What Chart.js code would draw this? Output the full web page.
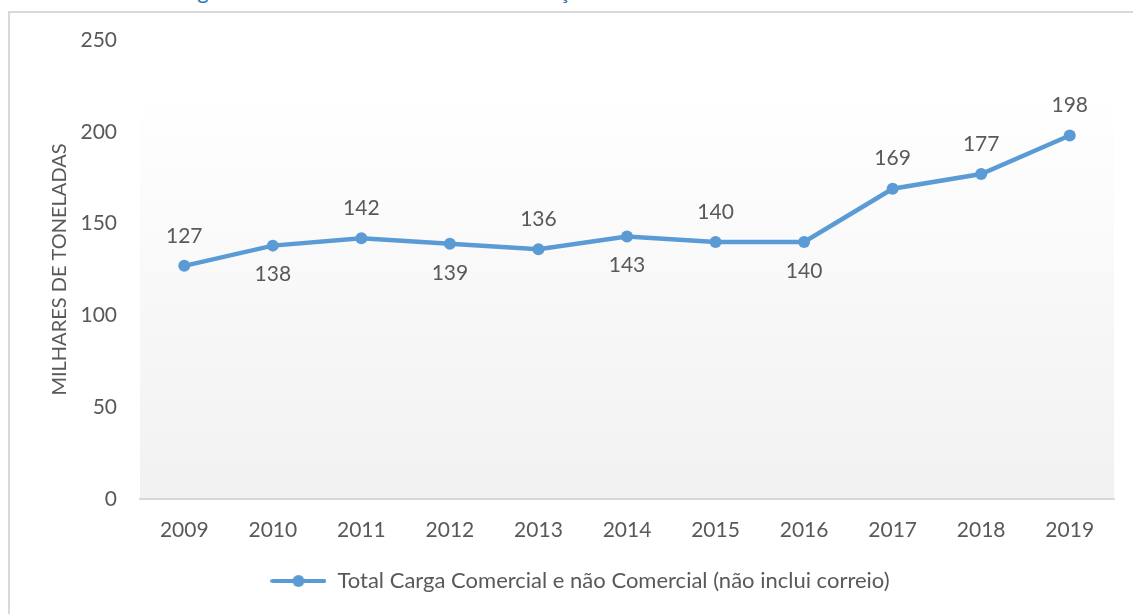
<!DOCTYPE html>
<html>
<head>
<meta charset="utf-8">
<script src="https://cdn.jsdelivr.net/npm/chart.js@4.4.1/dist/chart.umd.min.js"></script>
<style>
  html, body { margin: 0; padding: 0; background: #fff; width: 1133px; height: 614px; overflow: hidden; }
  #heading { position: absolute; left: 0; top: -23px; font: 22px Lato, sans-serif; color: #2E75B6; white-space: nowrap; }
  #frame { position: absolute; left: 8px; top: 11px; width: 1140px; height: 620px; border-left: 2px solid #d9d9d9; border-top: 2px solid #d9d9d9; }
  #wrap { position: absolute; left: 0; top: 0; width: 1133px; height: 614px; }
</style>
</head>
<body>
<div id="heading">Gráfico 3 – Total Carga Comercial e não Comercial – Evolução 2009 a 2019</div>
<div id="frame"></div>
<div id="wrap"><canvas id="chart"></canvas></div>
<script>
// ---- DATA ----
const years = ['2009', '2010', '2011', '2012', '2013', '2014', '2015', '2016', '2017', '2018', '2019'];
const carga = [127, 138, 142, 139, 136, 143, 140, 140, 169, 177, 198];
const labelSide = ['up', 'down', 'up', 'down', 'up', 'down', 'up', 'down', 'up', 'up', 'up'];
const seriesName = 'Total Carga Comercial e não Comercial (não inclui correio)';
const yTitle = 'MILHARES DE TONELADAS';

const BLUE = '#5B9BD5';
const GREY = '#595959';
const FONT = 'Lato, "Open Sans", sans-serif';

// legend marker: line with a dot
function legendMarker() {
  const c = document.createElement('canvas');
  c.width = 56; c.height = 16;
  const g = c.getContext('2d');
  g.strokeStyle = BLUE; g.lineWidth = 4; g.lineCap = 'round';
  g.beginPath(); g.moveTo(2, 8); g.lineTo(54, 8); g.stroke();
  g.fillStyle = BLUE;
  g.beginPath(); g.arc(28, 8, 6, 0, Math.PI * 2); g.fill();
  return c;
}

// ---- PLUGINS ----
const plotBg = {
  id: 'plotBg',
  beforeDraw(chart) {
    const { ctx, chartArea: a } = chart;
    const top = a.top + (a.bottom - a.top) * 0.113;
    const grd = ctx.createLinearGradient(0, top, 0, a.bottom);
    grd.addColorStop(0, '#ffffff');
    grd.addColorStop(1, '#f1f1f1');
    ctx.save();
    ctx.fillStyle = grd;
    ctx.fillRect(a.left, top, a.right - a.left, a.bottom - top);
    ctx.restore();
  }
};

const valueLabels = {
  id: 'valueLabels',
  afterDatasetsDraw(chart) {
    const { ctx } = chart;
    const meta = chart.getDatasetMeta(0);
    ctx.save();
    ctx.font = '21px ' + FONT;
    ctx.fillStyle = GREY;
    ctx.textAlign = 'center';
    ctx.textBaseline = 'middle';
    meta.data.forEach((pt, i) => {
      const dy = labelSide[i] === 'up' ? -30 : 29;
      ctx.fillText(String(carga[i]), pt.x, pt.y + dy);
    });
    ctx.restore();
  }
};

// ---- CHART ----
new Chart(document.getElementById('chart'), {
  type: 'line',
  data: {
    labels: years,
    datasets: [{
      label: seriesName,
      data: carga,
      borderColor: BLUE,
      backgroundColor: BLUE,
      borderWidth: 4.5,
      pointRadius: 6,
      pointHoverRadius: 6,
      pointBackgroundColor: BLUE,
      pointBorderWidth: 0,
      tension: 0
    }]
  },
  options: {
    responsive: true,
    maintainAspectRatio: false,
    animation: false,
    layout: { padding: { left: 46, right: 19, top: 40, bottom: 12 } },
    plugins: {
      tooltip: { enabled: false },
      legend: {
        position: 'bottom',
        labels: {
          usePointStyle: true,
          pointStyleWidth: 56,
          color: GREY,
          font: { family: FONT, size: 22 },
          padding: 10,
          generateLabels: () => [{
            text: seriesName,
            pointStyle: legendMarker(),
            fillStyle: BLUE,
            strokeStyle: BLUE,
            lineWidth: 0,
            fontColor: GREY,
            datasetIndex: 0
          }]
        }
      }
    },
    scales: {
      x: {
        offset: true,
        grid: { display: false, drawTicks: false },
        border: { color: '#d9d9d9', width: 2 },
        ticks: { color: GREY, font: { family: FONT, size: 21 }, padding: 19 },
        afterFit(s) { s.height = 61; }
      },
      y: {
        min: 0,
        max: 250,
        grid: { display: false, drawTicks: false },
        border: { display: false },
        ticks: { stepSize: 50, color: GREY, font: { family: FONT, size: 21 }, padding: 23 },
        title: { display: true, text: yTitle, color: GREY, font: { family: FONT, size: 20 }, padding: 2 },
        afterFit(s) { s.width = 94; }
      }
    }
  },
  plugins: [plotBg, valueLabels]
});
</script>
</body>
</html>
